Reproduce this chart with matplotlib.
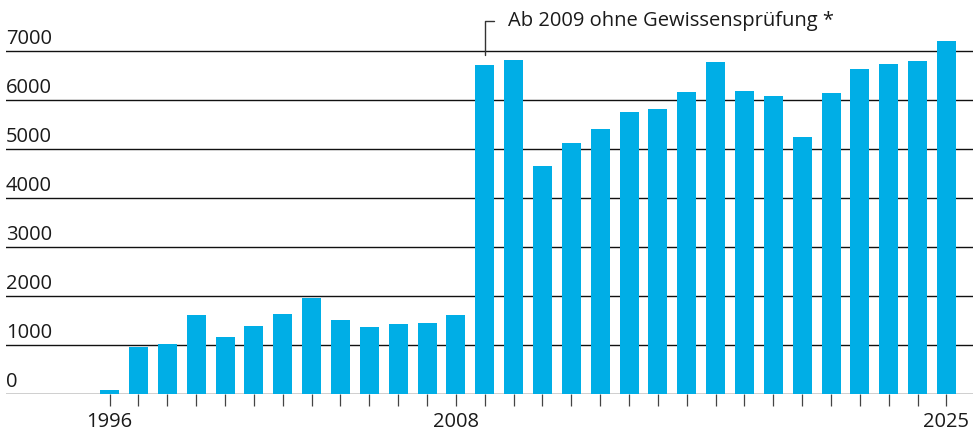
import matplotlib.pyplot as plt
from matplotlib.ticker import FixedLocator

years = list(range(1996, 2026))
values = [88, 966, 1027, 1619, 1170, 1395, 1639, 1966, 1517, 1374, 1435, 1456, 1619,
          6721, 6823, 4660, 5129, 5415, 5762, 5823, 6170, 6782, 6190, 6088, 5252,
          6150, 6639, 6741, 6803, 7211]
gridvals = [0, 1000, 2000, 3000, 4000, 5000, 6000, 7000]
shown_years = [1996, 2008, 2025]
note = "Ab 2009 ohne Gewissensprüfung *"

plt.rcParams['font.family'] = ['Open Sans', 'DejaVu Sans']
plt.rcParams['font.weight'] = 'medium'

fig = plt.figure(figsize=(9.79, 4.33), dpi=100)
ax = fig.add_axes([6 / 979, 1 - 394.3 / 433, 967 / 979, 394.3 / 433])

# grid lines behind the bars
for g in gridvals:
    ax.axhline(g, color='#111111', lw=1.0, zorder=1)
    ax.annotate(str(g), xy=(0, g), xycoords=('axes fraction', 'data'),
                xytext=(0, 5.3), textcoords='offset points',
                ha='left', va='baseline', fontsize=14.5, color='#1a1a1a')

ax.bar(years, values, width=0.66, color='#00AEE6', zorder=2)

ax.set_xlim(1992.41, 2025.92)
ax.set_ylim(0, 8047)

for s in ax.spines.values():
    s.set_visible(False)
ax.set_yticks([])
ax.xaxis.set_major_locator(FixedLocator(years))
ax.set_xticklabels([str(y) if y in shown_years else '' for y in years])
ax.tick_params(axis='x', length=8.6, width=0.9, color='#444444', pad=4.5,
               labelsize=14.5, labelcolor='#1a1a1a')

# bracket pointing to 2009 bar
ax.annotate('', xy=(2009, 6860), xytext=(2009.42, 7610),
            arrowprops=dict(arrowstyle='-', color='#333333', lw=1.0,
                            connectionstyle='angle,angleA=0,angleB=90,rad=0'))
ax.text(2009.8, 7610, note, ha='left', va='center', fontsize=14.5, color='#1a1a1a')

fig.savefig('out.png', dpi=100)
